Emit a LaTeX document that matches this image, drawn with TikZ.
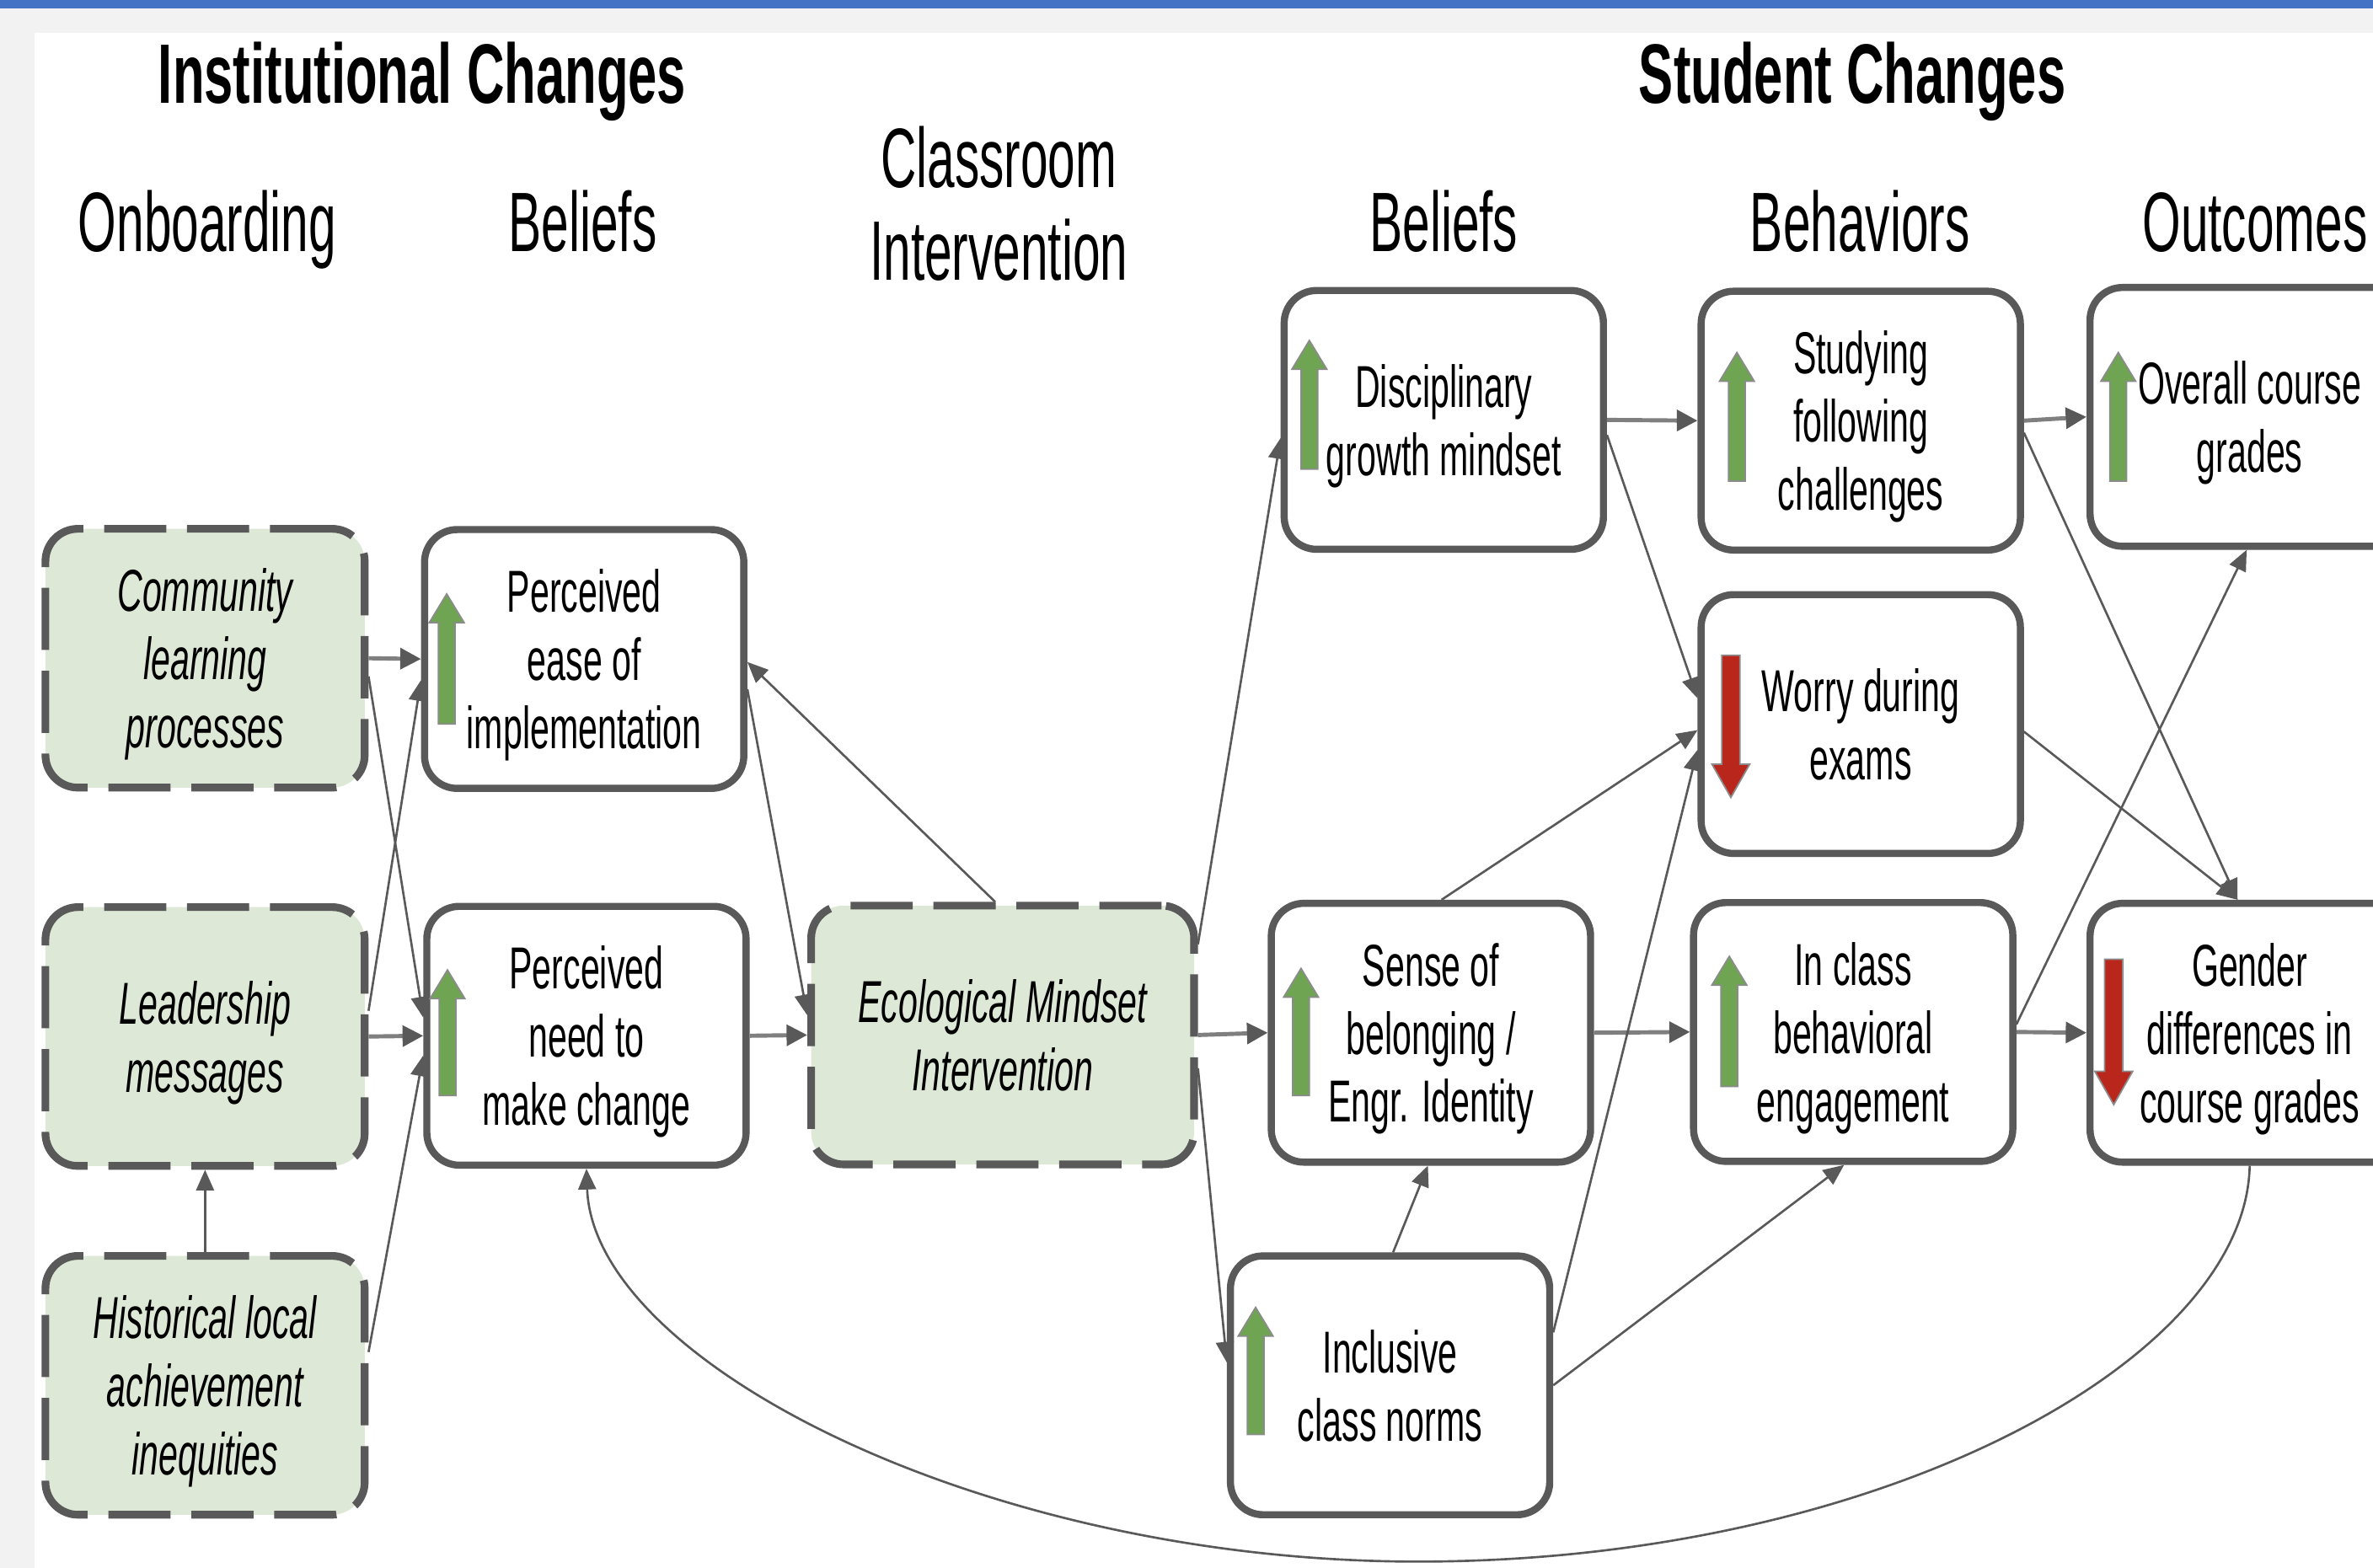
\documentclass[tikz,border=0pt]{standalone}
\usepackage{fontspec}
\setmainfont{Liberation Sans}[FakeStretch=0.585]
\newfontfamily\titlefont{Liberation Sans}[FakeStretch=0.615]
\usetikzlibrary{arrows.meta,calc}

\definecolor{edgegray}{HTML}{595959}
\definecolor{flowgray}{HTML}{7F7F7F}
\definecolor{softgreen}{HTML}{DDE8D6}
\definecolor{upgreen}{HTML}{6FA552}
\definecolor{downred}{HTML}{B8261C}
\definecolor{topbar}{HTML}{4472C4}
\definecolor{framegray}{HTML}{F2F2F2}

\newcommand\boxfont{\fontsize{20}{23}\selectfont}
\newcommand\headsize{\fontsize{28.5}{31}\selectfont}

% green "increase" marker inside a box:
% #1 node, #2 x offset from its west side, #3 tip, #4 tail (y offsets from the centre line)
\newcommand\risemark[4]{%
  \begin{scope}[shift={(#1.west)}]
    \filldraw[fill=upgreen, draw=edgegray!70, line width=0.5pt]
      ({#2-5.5},{#4}) -- ({#2-5.5},{#3+19}) -- ({#2-11.5},{#3+19}) -- ({#2},{#3})
      -- ({#2+11.5},{#3+19}) -- ({#2+5.5},{#3+19}) -- ({#2+5.5},{#4}) -- cycle;
  \end{scope}}
% red "decrease" marker: #3 tail (top), #4 tip (bottom)
\newcommand\fallmark[4]{%
  \begin{scope}[shift={(#1.west)}]
    \filldraw[fill=downred, draw=edgegray!70, line width=0.5pt]
      ({#2-6},{#3}) -- ({#2-6},{#4-22}) -- ({#2-12.5},{#4-22}) -- ({#2},{#4})
      -- ({#2+12.5},{#4-22}) -- ({#2+6},{#4-22}) -- ({#2+6},{#3}) -- cycle;
  \end{scope}}

\begin{document}
\begin{tikzpicture}[x=0.01796cm, y=-0.01796cm,
  factor/.style={draw=edgegray, line width=2.4pt, rounded corners=11pt, fill=white,
    minimum width=107.8pt, minimum height=87.4pt, inner sep=0pt, align=center,
    font=\boxfont,
    % equal room above and below the text block, whatever the last line holds
    execute at begin node={\vbox\bgroup\kern4.4pt},
    execute at end node={\egroup\rule[-4.4pt]{0pt}{4.4pt}}},
  lever/.style={factor, fill=softgreen, line width=2.6pt,
    dash pattern=on 21pt off 7pt, font=\boxfont\itshape},
  link/.style={draw=edgegray, line width=0.75pt, -{Triangle[length=7pt,width=6pt]}},
  flow/.style={draw=flowgray, line width=1.4pt,
    -{Triangle[length=7pt,width=7pt,color=edgegray]}},
  head/.style={anchor=base, font=\headsize, inner sep=0pt},
  title/.style={anchor=base, font={\titlefont\bfseries\headsize}, inner sep=0pt}]

% page frame
\useasboundingbox (0,0) rectangle (1568,1036);
\fill[framegray] (0,0) rectangle (1568,1036);
\fill[topbar] (0,0) rectangle (1568,5.5);
\fill[white] (23,22) rectangle (1568,1036);
\clip (0,0) rectangle (1568,1036);

% column headings
\node[title] (tinst) at (279,68) {Institutional Changes};
\node[title] (tstud) at (1224,68) {Student Changes};
\node[head] (hon) at (137,166) {Onboarding};
\node[head] (hbel) at (385,166) {Beliefs};
\node[head] (hcls) at (660,124) {Classroom};
\node[head] (hint) at (660,185) {Intervention};
\node[head] (hsbel) at (954,166) {Beliefs};
\node[head] (hbeh) at (1229,166) {Behaviors};
\node[head] (hout) at (1490,166) {Outcomes};

% institutional levers
\node[lever] (comm) at (135.5,435) {Community\\learning\\processes};
\node[lever] (lead) at (135.5,685) {Leadership\\messages};
\node[lever] (hist) at (135.5,915.5) {Historical local\\achievement\\inequities};

% instructor beliefs
\node[factor] (ease) at (386,435.5) {Perceived\\ease of\\implementation};
\node[factor] (need) at (387.5,684.5) {Perceived\\need to\\make change};

% classroom intervention
\node[lever, minimum width=129.3pt] (eco) at (662.5,684) {Ecological Mindset\\Intervention};

% student beliefs
\node[factor] (disc) at (954,277.5) {Disciplinary\\growth mindset};
\node[factor] (sense) at (945.5,682.5) {Sense of\\belonging /\\Engr. Identity};
\node[factor] (incl) at (918.5,915.5) {Inclusive\\class norms};

% student behaviours
\node[factor] (stud) at (1229.5,278) {Studying\\following\\challenges};
\node[factor] (worry) at (1229.5,478.5) {Worry during\\exams};
\node[factor] (inclass) at (1224.5,682) {In class\\behavioral\\engagement};

% outcomes
\node[factor] (overall) at (1486.5,275.5) {Overall course\\grades};
\node[factor] (gender) at (1486.5,682.5) {Gender\\differences in\\course grades};

% direction markers
\risemark{ease}{17}{-43}{43}
\risemark{need}{16}{-43.5}{39.5}
\risemark{disc}{19}{-52.5}{32.5}
\risemark{stud}{26}{-45}{40}
\risemark{overall}{21}{-42.5}{42.5}
\risemark{sense}{22}{-42.5}{41.5}
\risemark{inclass}{26}{-50}{36}
\risemark{incl}{19}{-51.5}{32.5}
\fallmark{worry}{22}{-45.5}{48.5}
\fallmark{gender}{18}{-48.5}{47.5}

% straight flows between neighbouring columns
\draw[flow] (comm.east) -- (ease.west);
\draw[flow] (lead.east) -- (need.west);
\draw[flow] (need.east) -- (eco.west);
\draw[flow] (eco.east) -- (sense.west);
\draw[flow] (disc.east) -- (stud.west);
\draw[flow] (sense.east) -- (inclass.west);
\draw[flow] (stud.east) -- (overall.west);
\draw[flow] (inclass.east) -- (gender.west);

% cross links
\draw[link] (hist.north) -- (lead.south);
\draw[link] ($(comm.east)+(0,12)$) -- ($(need.west)+(0,-12)$);
\draw[link] ($(lead.east)+(0,-17)$) -- ($(ease.west)+(0,14)$);
\draw[link] ($(hist.east)+(0,-22)$) -- ($(need.west)+(0,13)$);
\draw[link] ($(ease.east)+(0,20)$) -- ($(eco.west)+(0,-13)$);
\draw[link] ($(eco.north)+(-5,0)$) -- ($(ease.east)+(0,2)$);
\draw[link] ($(eco.east)+(0,-60)$) -- ($(disc.west)+(0,12)$);
\draw[link] ($(eco.east)+(0,22)$) -- ($(incl.west)+(0,-15)$);
\draw[link] ($(disc.east)+(0,10)$) -- ($(worry.west)+(0,-17)$);
\draw[link] ($(sense.north)+(7,0)$) -- ($(worry.west)+(0,4)$);
\draw[link] ($(incl.north)+(2,0)$) -- ($(sense.south)+(-2,0)$);
\draw[link] ($(incl.east)+(0,-35)$) -- ($(worry.west)+(0,17)$);
\draw[link] (incl.east) -- ($(inclass.south)+(-6,0)$);
\draw[link] ($(stud.east)+(0,8)$) -- ($(gender.north)+(-8,0)$);
\draw[link] ($(worry.east)+(0,5)$) -- ($(gender.north)+(-8,0)$);
\draw[link] ($(inclass.east)+(0,-5)$) -- ($(overall.south)+(-2,0)$);

% feedback loop from outcomes back to instructor beliefs
\coordinate (loopbottom) at (937,1032);
\draw[link] (gender.south) .. controls (1484,900) and (1240,1032) .. (loopbottom)
  .. controls (650,1032) and (392,900) .. (need.south);

\end{tikzpicture}
\end{document}
